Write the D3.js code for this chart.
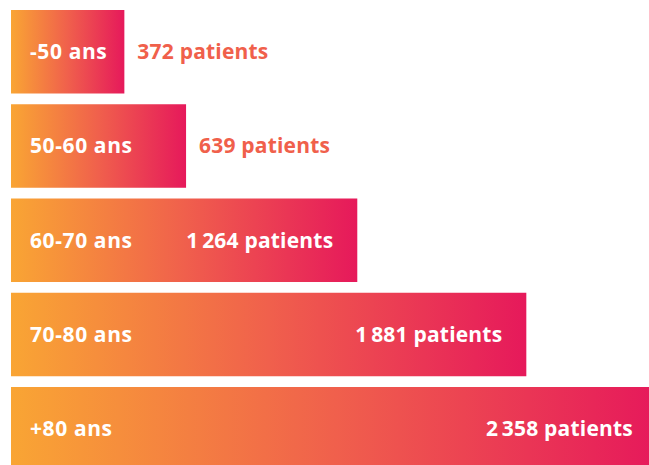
<!DOCTYPE html>
<html><head><meta charset="utf-8">
<script src="https://cdn.jsdelivr.net/npm/d3@7"></script>
<style>
html,body{margin:0;padding:0;background:#fff;overflow:hidden}
svg{display:block}
text{font-family:"Open Sans","Noto Sans",sans-serif;font-weight:700}
</style></head>
<body>
<script>
const categories = ["-50 ans","50-60 ans","60-70 ans","70-80 ans","+80 ans"];
const values = [372, 639, 1264, 1881, 2358];
const unit = "patients";

const W = 649, H = 465;
const margin = {left: 11, top: 10};
const svg = d3.select("body").append("svg").attr("width", W).attr("height", H);

const defs = svg.append("defs");
const grad = defs.append("linearGradient").attr("id","barGrad")
  .attr("x1","0%").attr("x2","100%").attr("y1","0%").attr("y2","0%");
grad.append("stop").attr("offset","0%").attr("stop-color","#f9a534");
grad.append("stop").attr("offset","50%").attr("stop-color","#f0604c");
grad.append("stop").attr("offset","100%").attr("stop-color","#e6195b");

const x = d3.scaleLinear().domain([0, d3.max(values)]).range([0, 646]);
const pad = 0.114;
const step = 94.25;
const y = d3.scaleBand().domain(categories)
  .range([margin.top, margin.top + step*(categories.length - pad)])
  .paddingInner(pad).paddingOuter(0);

const loc = d3.formatLocale({decimal: ",", thousands: "\u2009", grouping: [3], currency: ["", " €"]});
const fmt = loc.format(",d");

const fs = 21;
const g = svg.append("g");
const rows = g.selectAll("g.row").data(categories.map((c,i)=>({c, v: values[i]})))
  .join("g").attr("class","row").attr("transform", d => `translate(${margin.left},${y(d.c)})`);

rows.each(function(d){
  const row = d3.select(this);
  const bh = y.bandwidth();
  const rect = row.append("rect").attr("y",0).attr("height",bh).attr("fill","url(#barGrad)");
  const lab = row.append("text").attr("x",19).attr("y",bh/2).attr("dy","0.35em")
    .attr("fill","#fff").attr("font-size",fs).attr("letter-spacing","0.6").text(d.c);
  const lw = lab.node().getComputedTextLength();
  let bw = Math.max(x(d.v), lw + 36);
  rect.attr("width", bw);
  const val = row.append("text").attr("y",bh/2).attr("dy","0.35em")
    .attr("font-size",fs).attr("letter-spacing","0.2").text(fmt(d.v) + " " + unit);
  const vw = val.node().getComputedTextLength();
  if (19 + lw + 40 + vw + 24 <= bw) {
    val.attr("x", bw - 24).attr("text-anchor","end").attr("fill","#fff");
  } else {
    val.attr("x", bw + 13).attr("text-anchor","start").attr("fill","#f0604b");
  }
});
</script>
</body></html>
